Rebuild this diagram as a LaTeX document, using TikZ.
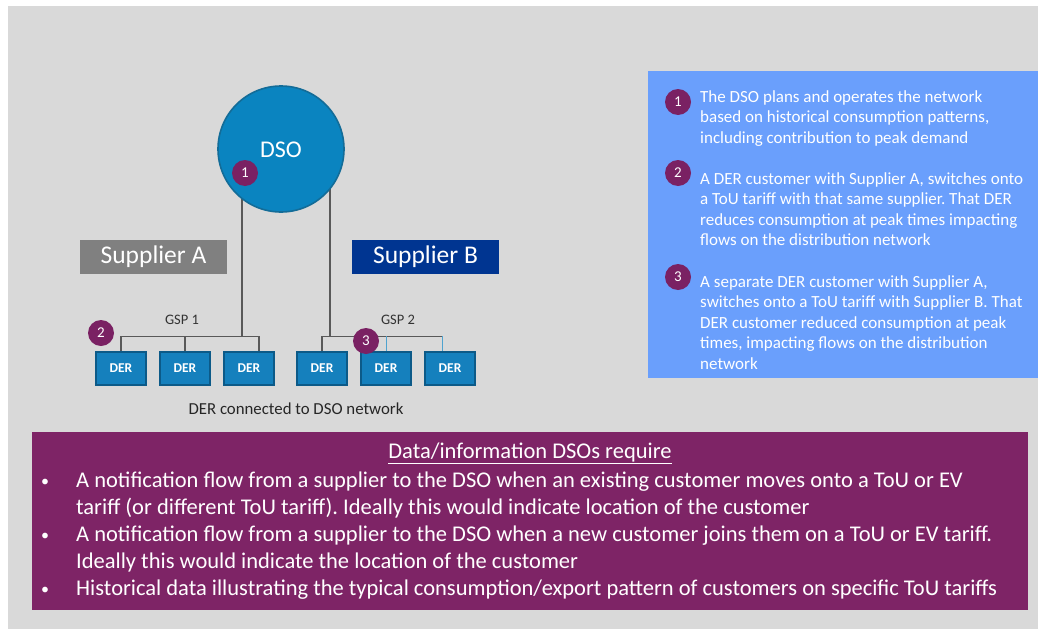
\documentclass[tikz,border=0pt]{standalone}
\usepackage{fontspec}
\setmainfont{Carlito}
\usetikzlibrary{calc}
\frenchspacing
\definecolor{bggray}{HTML}{D9D9D9}
\definecolor{dsoblue}{HTML}{0A84C0}
\definecolor{dsoedge}{HTML}{136C98}
\definecolor{derblue}{HTML}{1580BD}
\definecolor{deredge}{HTML}{0C5A88}
\definecolor{supA}{HTML}{808080}
\definecolor{supB}{HTML}{003591}
\definecolor{panelblue}{HTML}{6A9FFC}
\definecolor{plum}{HTML}{7E2466}
\definecolor{badge}{HTML}{7A2163}
\definecolor{wire}{HTML}{595959}
\definecolor{wireblue}{HTML}{4FA3CF}
\tikzset{
  derbox/.style={draw=deredge, line width=1.3pt, fill=derblue, minimum width=50pt,
    minimum height=33pt, inner sep=0pt, text=white, font=\fontsize{13.5}{13.5}\selectfont\bfseries},
  badgenode/.style={circle, fill=badge, minimum size=26pt, inner sep=0pt, text=white,
    font=\fontsize{15}{15}\selectfont},
  smallbadge/.style={circle, fill=badge, minimum size=26pt, inner sep=0pt, text=white,
    font=\fontsize{15}{15}\selectfont},
  supbox/.style={minimum width=147pt, minimum height=34pt, inner sep=0pt, text=white,
    font=\fontsize{25.5}{25.5}\selectfont},
  wireline/.style={draw=wire, line width=1.1pt},
  paneltext/.style={anchor=north west, inner sep=0pt, align=left, text=white,
    font=\fontsize{17}{20.5}\selectfont},
  bullettext/.style={anchor=north west, inner sep=0pt, align=left, text=white,
    font=\fontsize{22.5}{27}\selectfont},
}
\begin{document}
\begin{tikzpicture}[x=1pt, y=-1pt]
\useasboundingbox (0,0) rectangle (1038,629);
\fill[white] (0,0) rectangle (1038,629);
\fill[bggray] (8,6) rectangle (1038,629);

% junction points of the two GSP buses
\coordinate (b1) at (242,337);
\coordinate (b2) at (330,337);

% DER units
\node[derbox] (d1) at (121,368.5) {DER};
\node[derbox] (d2) at (185,368.5) {DER};
\node[derbox] (d3) at (249,368.5) {DER};
\node[derbox] (d4) at (322,368.5) {DER};
\node[derbox] (d5) at (386,368.5) {DER};
\node[derbox] (d6) at (450,368.5) {DER};

% DSO node and feeders
\node[circle, minimum size=126pt, inner sep=0pt] (dso) at (281,149) {};
\draw[wireline] (b1 |- dso.center) -- (b1);
\draw[wireline] (b2 |- dso.center) -- (b2);
\draw[wireline] (d1.north) |- ($(d3.north)+(10,-15)$) -- ($(d3.north)+(10,0)$);
\draw[wireline] (d2.north) -- (d2.north |- b1);
\draw[wireline] (d4.north) |- ($(d6.north)+(-8,-15)$);
\draw[draw=wireblue, line width=1pt] ($(d5.north)+(0,-15)$) -- (d5.north);
\draw[draw=wireblue, line width=1pt] ($(d6.north)+(-8,-15)$) -- ($(d6.north)+(-8,0)$);

\draw[draw=dsoedge, line width=1.6pt, fill=dsoblue] (dso.center) circle (63pt);
\node[text=white, font=\fontsize{24}{24}\selectfont] (dsolabel) at (281,150) {DSO};

% suppliers
\node[supbox, fill=supA] (supa) at (153.5,257) {Supplier A};
\node[supbox, fill=supB] (supb) at (425.5,257) {Supplier B};

% labels
\node[text=black!80, font=\fontsize{14.5}{14.5}\selectfont] (gsp1) at (182,320) {GSP 1};
\node[text=black!80, font=\fontsize{14.5}{14.5}\selectfont] (gsp2) at (398,320) {GSP 2};
\node[text=black!85, font=\fontsize{16.8}{16.8}\selectfont] (cap) at (296,409) {DER connected to DSO network};

% numbered markers
\node[smallbadge] (m1) at (245,173) {1};
\node[smallbadge] (m2) at (101,333) {2};
\node[smallbadge] (m3) at (366,341) {3};

% explanation panel
\fill[panelblue] (648,71) rectangle (1038,378);
\node[badgenode] (p1) at (678,102) {1};
\node[badgenode] (p2) at (678,173) {2};
\node[badgenode] (p3) at (678,277) {3};
\node[paneltext] (t1) at (700,90) {The DSO plans and operates the network\\based on historical consumption patterns,\\including contribution to peak demand};
\node[paneltext] (t2) at (700,172) {A DER customer with Supplier A, switches onto\\a ToU tariff with that same supplier. That DER\\reduces consumption at peak times impacting\\flows on the distribution network};
\node[paneltext] (t3) at (700,275) {A separate DER customer with Supplier A,\\switches onto a ToU tariff with Supplier B. That\\DER customer reduced consumption at peak\\times, impacting flows on the distribution\\network};

% requirements box
\fill[plum] (32,432) rectangle (1028,610);
\node[text=white, font=\fontsize{22.5}{22.5}\selectfont] (title) at (530,453) {\underline{Data/information DSOs require}};
\node[text=white, font=\fontsize{16}{16}\selectfont] (u1) at (45,483) {•};
\node[text=white, font=\fontsize{16}{16}\selectfont] (u2) at (45,537) {•};
\node[text=white, font=\fontsize{16}{16}\selectfont] (u3) at (45,591) {•};
\node[bullettext] (r1) at (76,472) {A notification flow from a supplier to the DSO when an existing customer moves onto a ToU or EV\\tariff (or different ToU tariff). Ideally this would indicate location of the customer};
\node[bullettext] (r2) at (76,526) {A notification flow from a supplier to the DSO when a new customer joins them on a ToU or EV tariff.\\Ideally this would indicate the location of the customer};
\node[bullettext] (r3) at (76,580) {Historical data illustrating the typical consumption/export pattern of customers on specific ToU tariffs};
\end{tikzpicture}
\end{document}
